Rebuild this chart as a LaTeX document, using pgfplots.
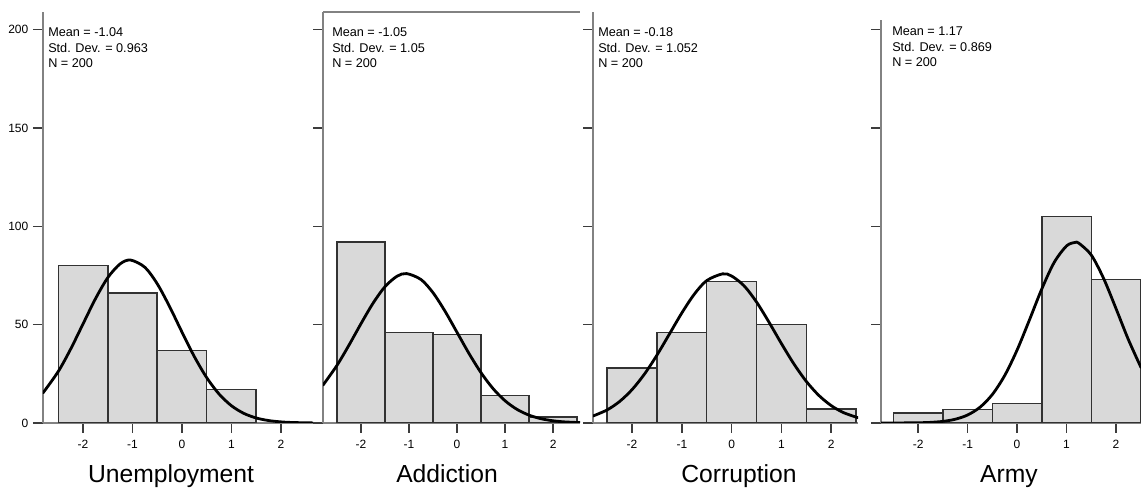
\documentclass[border=0pt]{standalone}
\usepackage{fontspec}
\setmainfont{Liberation Sans}
\usepackage{pgfplots}
\pgfplotsset{compat=1.18}

\definecolor{barfill}{RGB}{217,217,217}
\definecolor{baredge}{RGB}{50,50,50}
\definecolor{axgray}{RGB}{130,130,130}
\definecolor{tickgray}{RGB}{60,60,60}

% 1 unit of layout = 0.75pt; y measured downwards from the top edge
\newcommand\lx[1]{#1*0.75pt}
\newcommand\ly[1]{(491-#1)*0.75pt}

\pgfplotsset{
  hist/.style={
    scale only axis, anchor=south west,
    axis lines*=left,
    axis line style={draw=axgray, line width=1.4pt},
    ymin=0,
    xtick={-2,-1,0,1,2}, xticklabels={-2,-1,0,1,2},
    ytick={0,50,100,150,200},
    tick align=outside, major tick length=7.5pt,
    tick style={draw=tickgray, line width=1pt},
    ticklabel style={font=\fontsize{9}{10}\selectfont},
    xticklabel style={yshift=-2pt},
    /pgf/number format/assume math mode=true,
  },
  bars/.style={ybar interval, fill=barfill, draw=baredge, line width=1.1pt},
  fit/.style={smooth, black, line width=2.1pt, line cap=round},
}

\newcommand\stats[5]{%
  \node[anchor=base west, font=\fontsize{9.5}{11}\selectfont, inner sep=0pt] at ({\lx{#1}},{\ly{#5}}) {Mean = #2};
  \node[anchor=base west, font=\fontsize{9.5}{11}\selectfont, inner sep=0pt] at ({\lx{#1}},{\ly{(#5+15.7)}}) {Std. Dev. = #3};
  \node[anchor=base west, font=\fontsize{9.5}{11}\selectfont, inner sep=0pt] at ({\lx{#1}},{\ly{(#5+31.4)}}) {N = #4};
}

\begin{document}
\begin{tikzpicture}
\useasboundingbox (0,0) rectangle (855.75pt,368.25pt);

% Unemployment
\begin{axis}[hist, at={({\lx{43}},{\ly{423}})},
  width=202.5pt, height=308.25pt,
  xmin=-2.81, xmax=2.65, ymax=209]
\addplot[bars] coordinates {(-2.5,80) (-1.5,66) (-0.5,37) (0.5,17) (1.5,17)};
\addplot[fit] coordinates {
  (-2.81,15.30) (-2.5,26.25) (-2.25,37.63) (-2,50.41) (-1.75,63.14)
  (-1.5,73.92) (-1.25,80.91) (-1.04,82.86) (-0.75,79.18) (-0.5,70.80)
  (-0.25,59.18) (0,46.24) (0.25,33.78) (0.5,23.07) (0.75,14.73)
  (1,8.79) (1.25,4.90) (1.5,2.56) (1.75,1.25) (2,0.57) (2.25,0.24) (2.65,0.04)};
\end{axis}

% Addiction
\begin{axis}[hist, at={({\lx{323}},{\ly{423}})},
  width=192.75pt, height=308.25pt,
  xmin=-2.79, xmax=2.56, ymax=209, yticklabels={}]
\addplot[bars] coordinates {(-2.5,92) (-1.5,46) (-0.5,45) (0.5,14) (1.5,3) (2.5,3)};
\addplot[fit] coordinates {
  (-2.79,19.25) (-2.5,29.28) (-2.25,39.55) (-2,50.47) (-1.75,60.85)
  (-1.5,69.32) (-1.25,74.62) (-1.05,75.99) (-0.75,72.95) (-0.5,66.25)
  (-0.25,56.84) (0,46.09) (0.25,35.31) (0.5,25.56) (0.75,17.48)
  (1,11.30) (1.25,6.90) (1.5,3.98) (1.75,2.17) (2,1.12) (2.25,0.54) (2.56,0.21)};
\draw[axgray, line width=1.4pt] (rel axis cs:0,1) -- (rel axis cs:1,1);
\end{axis}

% Corruption
\begin{axis}[hist, at={({\lx{593}},{\ly{423}})},
  width=198.75pt, height=308.25pt,
  xmin=-2.785, xmax=2.54, ymax=209, yticklabels={}]
\addplot[bars] coordinates {(-2.5,28) (-1.5,46) (-0.5,72) (0.5,50) (1.5,7) (2.5,7)};
\addplot[fit] coordinates {
  (-2.785,3.54) (-2.5,6.67) (-2.25,10.95) (-2,16.98) (-1.75,24.91)
  (-1.5,34.52) (-1.25,45.22) (-1,55.97) (-0.75,65.49) (-0.5,72.42)
  (-0.18,75.85) (0,74.74) (0.25,69.77) (0.5,61.55) (0.75,51.32)
  (1,40.43) (1.25,30.11) (1.5,21.19) (1.75,14.10) (2,8.86) (2.25,5.27) (2.54,2.68)};
\end{axis}

% Army
\begin{axis}[hist, at={({\lx{881}},{\ly{423}})},
  width=195pt, height=302.25pt,
  xmin=-2.75, xmax=2.505, ymax=205, yticklabels={}]
\addplot[bars] coordinates {(-2.5,5) (-1.5,7) (-0.5,10) (0.5,105) (1.5,73) (2.5,73)};
\addplot[fit] coordinates {
  (-2.75,0.00) (-2.5,0.01) (-2,0.12) (-1.75,0.32) (-1.5,0.82)
  (-1.25,1.90) (-1,4.06) (-0.75,8.00) (-0.5,14.49) (-0.25,24.16)
  (0,37.09) (0.25,52.43) (0.5,68.21) (0.75,81.69) (1,90.08)
  (1.17,91.82) (1.25,91.43) (1.5,85.43) (1.75,73.48) (2,58.18)
  (2.25,42.41) (2.505,28.21)};
\end{axis}

% summary statistics
\stats{48}{-1.04}{0.963}{200}{36.5}
\stats{332}{-1.05}{1.05}{200}{36.5}
\stats{598}{-0.18}{1.052}{200}{36.5}
\stats{892}{1.17}{0.869}{200}{35.5}

% variable names
\begin{scope}[every node/.style={anchor=base, font=\fontsize{18.5}{20}\selectfont, inner sep=0pt}]
\node at ({\lx{171}},{\ly{483}}) {Unemployment};
\node at ({\lx{447}},{\ly{483}}) {Addiction};
\node at ({\lx{739}},{\ly{483}}) {Corruption};
\node at ({\lx{1009}},{\ly{483}}) {Army};
\end{scope}
\end{tikzpicture}
\end{document}
